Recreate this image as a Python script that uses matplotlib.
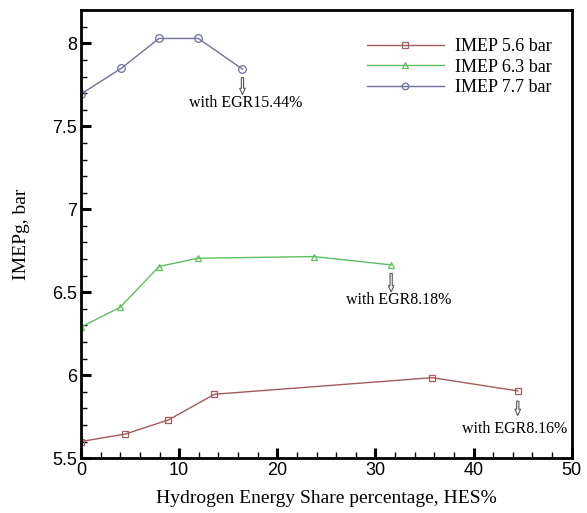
import matplotlib.pyplot as plt
from matplotlib.ticker import MultipleLocator

# HES% vs gross IMEP for three load points
hes_56 = [0, 4.5, 8.9, 13.6, 35.8, 44.5]
imep_56 = [5.60, 5.645, 5.73, 5.885, 5.985, 5.905]

hes_63 = [0, 4.0, 7.95, 11.9, 23.75, 31.6]
imep_63 = [6.29, 6.41, 6.655, 6.705, 6.715, 6.665]

hes_77 = [0, 4.1, 7.95, 11.95, 16.45]
imep_77 = [7.695, 7.85, 8.03, 8.03, 7.845]

labels = ["IMEP 5.6 bar", "IMEP 6.3 bar", "IMEP 7.7 bar"]
egr_notes = ["with EGR8.16%", "with EGR8.18%", "with EGR15.44%"]

serif = ["Liberation Serif", "DejaVu Serif"]
sans = ["Liberation Sans", "DejaVu Sans"]

fig = plt.figure(figsize=(5.87, 5.13), dpi=100)
ax = fig.add_axes([0.138, 0.107, 0.836, 0.873])

ax.plot(hes_56, imep_56, color="#a35a5a", lw=1, marker="s", ms=5,
        mfc="none", mew=0.9, label=labels[0])
ax.plot(hes_63, imep_63, color="#5cc05c", lw=1, marker="^", ms=5,
        mfc="none", mew=0.9, label=labels[1])
ax.plot(hes_77, imep_77, color="#6f6fa3", lw=1, marker="o", ms=5.5,
        mfc="none", mew=0.9, label=labels[2])

# hollow arrows pointing at the EGR notes
arrow = dict(arrowstyle="simple,head_width=0.4,head_length=0.45,tail_width=0.16",
             fc="white", ec="#555555", lw=0.8)
# (arrow tail y, arrow head y, text x offset, text y)
notes = [
    (5.86, 5.74, -0.3, 5.675),
    (6.63, 6.485, 0.8, 6.455),
    (7.81, 7.675, 0.3, 7.64),
]
ends = [(hes_56[-1], imep_56[-1]), (hes_63[-1], imep_63[-1]),
        (hes_77[-1], imep_77[-1])]
for (x, y), (y0, y1, dx, yt), note in zip(ends, notes, egr_notes):
    ax.annotate("", xy=(x, y1), xytext=(x, y0), arrowprops=arrow)
    ax.text(x + dx, yt, note, ha="center", va="center", fontsize=11.5,
            family=serif)

ax.set_xlim(0, 50)
ax.set_ylim(5.5, 8.2)
ax.xaxis.set_major_locator(MultipleLocator(10))
ax.xaxis.set_minor_locator(MultipleLocator(2))
ax.yaxis.set_minor_locator(MultipleLocator(0.1))
ax.set_yticks([5.5, 6, 6.5, 7, 7.5, 8])
ax.set_yticklabels(["5.5", "6", "6.5", "7", "7.5", "8"])

ax.tick_params(which="major", direction="in", length=7, width=2.2,
               labelsize=13, pad=3)
ax.tick_params(which="minor", direction="in", length=4, width=1)
for lab in ax.get_xticklabels() + ax.get_yticklabels():
    lab.set_family(sans)
for s in ax.spines.values():
    s.set_linewidth(2)

ax.set_xlabel("Hydrogen Energy Share percentage, HES%", fontsize=14,
              family=serif, labelpad=8)
ax.set_ylabel("IMEPg, bar", fontsize=14, family=serif, labelpad=16)

ax.legend(loc="upper left", bbox_to_anchor=(0.549, 0.974), frameon=False,
          prop={"family": serif, "size": 13}, handlelength=4.3,
          handletextpad=0.6, labelspacing=0.2, markerscale=0.85)

fig.savefig("out.png", dpi=100)
